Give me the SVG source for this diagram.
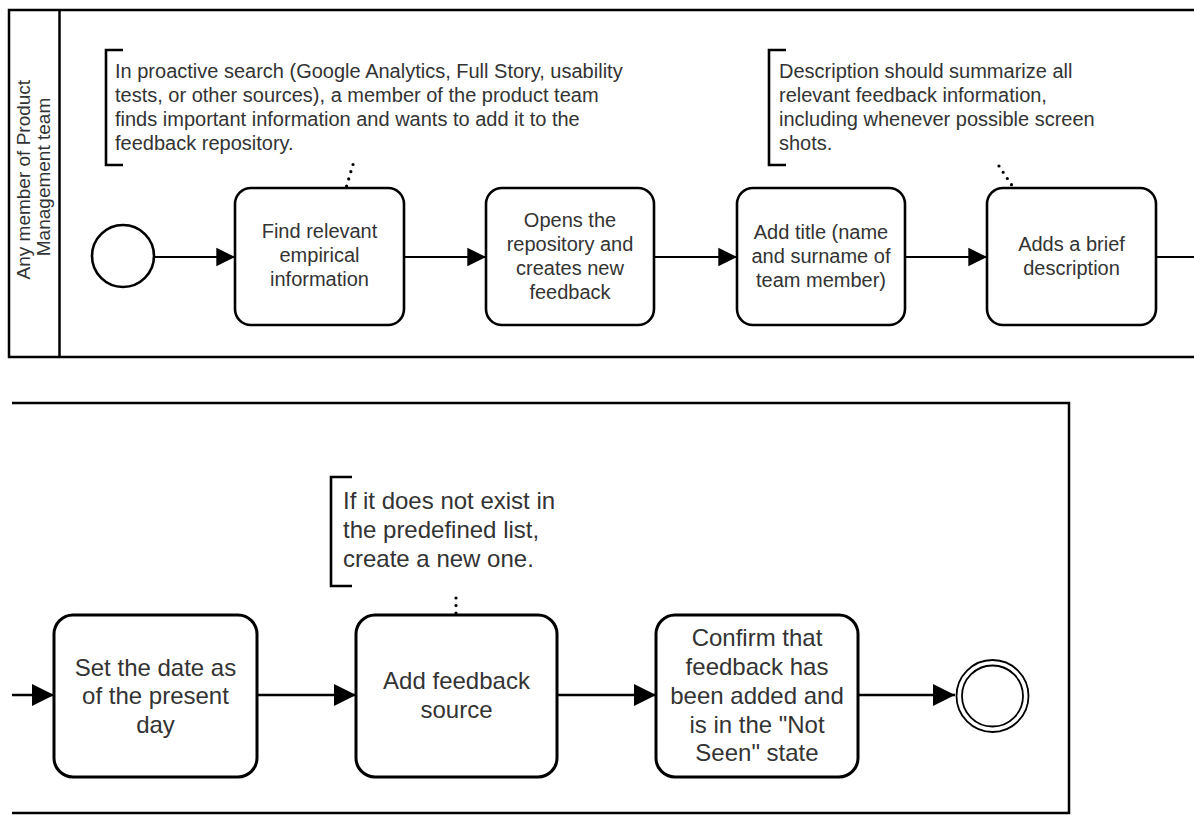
<svg xmlns="http://www.w3.org/2000/svg" width="1194" height="815" viewBox="0 0 1194 815">
  <defs>
    <marker id="arrowA" viewBox="0 0 10 10" refX="10" refY="5" markerWidth="8.5" markerHeight="9" markerUnits="strokeWidth" orient="auto">
      <path d="M0,0 L10,5 L0,10 Z" fill="#000"/>
    </marker>
    <marker id="arrowB" viewBox="0 0 10 10" refX="10" refY="5" markerWidth="8.5" markerHeight="9" markerUnits="strokeWidth" orient="auto">
      <path d="M0,0 L10,5 L0,10 Z" fill="#000"/>
    </marker>
    <style>
      .pool { fill: none; stroke: #000; stroke-width: 2.5; }
      .task { fill: #fff; stroke: #000; stroke-width: 2.6; }
      .taskB { fill: #fff; stroke: #000; stroke-width: 3; }
      .flow { fill: none; stroke: #000; stroke-width: 2.2; }
      .flowB { fill: none; stroke: #000; stroke-width: 2.6; }
      .assoc { fill: none; stroke: #000; stroke-width: 3.2; stroke-dasharray: 0 7.5; stroke-linecap: round; }
      .bracket { fill: none; stroke: #000; stroke-width: 2.6; }
      .t { font-family: "Liberation Sans", Arial, sans-serif; fill: #333; }
      .s20 { font-size: 20px; text-anchor: middle; }
      .s24 { font-size: 24px; text-anchor: middle; }
      .note { font-size: 20px; }
      .noteB { font-size: 24px; }
      .lane { font-size: 19px; text-anchor: middle; }
    </style>
  </defs>
  <rect width="1194" height="815" fill="#fff"/>

  <!-- upper pool with its lane header -->
  <g id="pool-top">
    <path class="pool" d="M1200,10 L9,10 L9,357 L1200,357"/>
    <line class="pool" x1="59.5" y1="10" x2="59.5" y2="357"/>
    <text class="t lane" transform="translate(33,177) rotate(-90)">
      <tspan x="0" y="-3">Any member of Product</tspan>
      <tspan x="0" y="17">Management team</tspan>
    </text>
  </g>

  <!-- lower pool (continuation) -->
  <g id="pool-bottom">
    <path class="pool" d="M12,403 L1069,403 L1069,813 L12,813"/>
  </g>

  <!-- sequence flows and associations -->
  <g id="connectors">
    <line class="flow" x1="154" y1="257" x2="235" y2="257" marker-end="url(#arrowA)"/>
    <line class="flow" x1="404" y1="257" x2="486" y2="257" marker-end="url(#arrowA)"/>
    <line class="flow" x1="654" y1="257" x2="737" y2="257" marker-end="url(#arrowA)"/>
    <line class="flow" x1="905" y1="257" x2="987" y2="257" marker-end="url(#arrowA)"/>
    <line class="flow" x1="1156" y1="257" x2="1200" y2="257"/>

    <line class="flowB" x1="12" y1="695" x2="54" y2="695" marker-end="url(#arrowB)"/>
    <line class="flowB" x1="257" y1="695" x2="356" y2="695" marker-end="url(#arrowB)"/>
    <line class="flowB" x1="557" y1="695" x2="656" y2="695" marker-end="url(#arrowB)"/>
    <line class="flowB" x1="858" y1="695" x2="955" y2="695" marker-end="url(#arrowB)"/>

    <line class="assoc" x1="353" y1="164.5" x2="346" y2="188"/>
    <line class="assoc" x1="999" y1="166" x2="1015" y2="190"/>
    <line class="assoc" x1="456" y1="598" x2="456" y2="615"/>
  </g>

  <!-- events -->
  <g id="start-event">
    <circle cx="123" cy="256" r="31" fill="#fff" stroke="#000" stroke-width="2.6"/>
  </g>
  <g id="end-event">
    <circle cx="992.5" cy="696" r="36" fill="#fff" stroke="#000" stroke-width="1.8"/>
    <circle cx="992.5" cy="696" r="30.5" fill="none" stroke="#000" stroke-width="1.8"/>
  </g>

  <!-- upper lane tasks -->
  <g id="task-find">
    <rect class="task" x="235" y="188" width="169" height="137" rx="16"/>
    <text class="t s20"><tspan x="319.5" y="238">Find relevant</tspan><tspan x="319.5" y="262">empirical</tspan><tspan x="319.5" y="286">information</tspan></text>
  </g>
  <g id="task-open">
    <rect class="task" x="486" y="188" width="168" height="137" rx="16"/>
    <text class="t s20"><tspan x="570" y="227">Opens the</tspan><tspan x="570" y="251">repository and</tspan><tspan x="570" y="275">creates new</tspan><tspan x="570" y="299">feedback</tspan></text>
  </g>
  <g id="task-title">
    <rect class="task" x="737" y="188" width="168" height="137" rx="16"/>
    <text class="t s20"><tspan x="821" y="239">Add title (name</tspan><tspan x="821" y="263">and surname of</tspan><tspan x="821" y="287">team member)</tspan></text>
  </g>
  <g id="task-describe">
    <rect class="task" x="987" y="188" width="169" height="137" rx="16"/>
    <text class="t s20"><tspan x="1071.5" y="251">Adds a brief</tspan><tspan x="1071.5" y="275">description</tspan></text>
  </g>

  <!-- lower lane tasks -->
  <g id="task-date">
    <rect class="taskB" x="54" y="615" width="203" height="162" rx="19"/>
    <text class="t s24"><tspan x="155.5" y="675.5">Set the date as</tspan><tspan x="155.5" y="704">of the present</tspan><tspan x="155.5" y="732.5">day</tspan></text>
  </g>
  <g id="task-source">
    <rect class="taskB" x="356" y="615" width="201" height="162" rx="19"/>
    <text class="t s24"><tspan x="456.5" y="689">Add feedback</tspan><tspan x="456.5" y="718">source</tspan></text>
  </g>
  <g id="task-confirm">
    <rect class="taskB" x="656" y="615" width="202" height="162" rx="19"/>
    <text class="t s24"><tspan x="757" y="646">Confirm that</tspan><tspan x="757" y="675">feedback has</tspan><tspan x="757" y="704">been added and</tspan><tspan x="757" y="732.5">is in the "Not</tspan><tspan x="757" y="761">Seen" state</tspan></text>
  </g>

  <!-- text annotations -->
  <g id="note-search">
    <path class="bracket" d="M123,50 L106,50 L106,165 L123,165"/>
    <text class="t note"><tspan x="115" y="78">In proactive search (Google Analytics, Full Story, usability</tspan><tspan x="115" y="102">tests, or other sources), a member of the product team</tspan><tspan x="115" y="126">finds important information and wants to add it to the</tspan><tspan x="115" y="150">feedback repository.</tspan></text>
  </g>
  <g id="note-description">
    <path class="bracket" d="M786,50 L769,50 L769,165 L786,165"/>
    <text class="t note"><tspan x="779" y="78">Description should summarize all</tspan><tspan x="779" y="102">relevant feedback information,</tspan><tspan x="779" y="126">including whenever possible screen</tspan><tspan x="779" y="150">shots.</tspan></text>
  </g>
  <g id="note-source">
    <path class="bracket" d="M352,477 L331,477 L331,586 L352,586"/>
    <text class="t noteB"><tspan x="343" y="508.5">If it does not exist in</tspan><tspan x="343" y="537.5">the predefined list,</tspan><tspan x="343" y="566.5">create a new one.</tspan></text>
  </g>
</svg>
